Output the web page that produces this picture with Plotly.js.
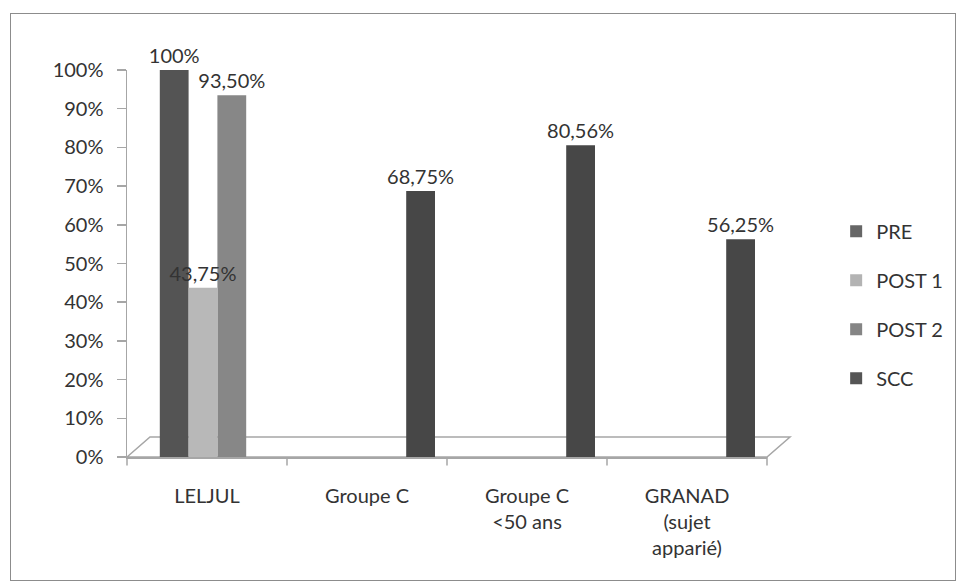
<!DOCTYPE html>
<html>
<head>
<meta charset="utf-8">
<script src="https://cdn.plot.ly/plotly-3.0.1.min.js"></script>
<style>
html,body{margin:0;padding:0;background:#fff;}
#chart{width:960px;height:586px;}
#frame{position:absolute;left:10px;top:13px;width:944px;height:566px;border:1.5px solid #8c8c8c;pointer-events:none;}
</style>
</head>
<body>
<div id="chart"></div>
<div id="frame"></div>
<script>
const categories = ["LELJUL", "Groupe C", "Groupe C<br>&lt;50 ans", "GRANAD<br>(sujet<br>apparié)"];
const seriesNames = ["PRE", "POST 1", "POST 2", "SCC"];
const PRE    = [1.00, null, null, null];
const POST1  = [0.4375, null, null, null];
const POST2  = [0.935, null, null, null];
const SCC    = [null, 0.6875, 0.8056, 0.5625];
const labelsPRE   = ["100%", "", "", ""];
const labelsPOST1 = ["43,75%", "", "", ""];
const labelsPOST2 = ["93,50%", "", "", ""];
const labelsSCC   = ["", "68,75%", "80,56%", "56,25%"];
const yTickVals = [0,0.1,0.2,0.3,0.4,0.5,0.6,0.7,0.8,0.9,1.0];
const yTickText = ["0%","10%","20%","30%","40%","50%","60%","70%","80%","90%","100%"];

const values = [PRE, POST1, POST2, SCC];
const labels = [labelsPRE, labelsPOST1, labelsPOST2, labelsSCC];
const barColors = ["#545454", "#b8b8b8", "#878787", "#474747"];
const legendColors = ["#666666", "#b3b3b3", "#858585", "#555555"];
const barW = 0.18;
const shift = 0.065;
const FONT = "Lato, 'Open Sans', sans-serif";
const FS = 20;

const xIdx = categories.map((c,i)=>i);
const barTraces = values.map((v,i)=>({
  type: "bar",
  name: seriesNames[i],
  x: xIdx,
  y: v,
  text: labels[i],
  textposition: "outside",
  constraintext: "none",
  cliponaxis: false,
  textfont: {family: FONT, size: FS, color: "#333333"},
  width: barW,
  offset: -2*barW + i*barW + shift,
  marker: {color: barColors[i], line: {width: 0}},
  legendgroup: "g"+i,
  showlegend: false,
  hoverinfo: "skip"
}));
// draw order: POST 1 last so its label sits on top of the POST 2 bar
const drawOrder = [0, 2, 3, 1];
const traces = drawOrder.map(i => barTraces[i]);

seriesNames.forEach((n,i)=>{
  traces.push({type:"bar", name:n, x:[null], y:[null], marker:{color:legendColors[i]}, legendgroup:"g"+i, showlegend:true, hoverinfo:"skip"});
});

const dx = 23/640, dy = 20/387;
const layout = {
  width: 960, height: 586,
  margin: {l:127, r:193, t:70, b:129},
  paper_bgcolor: "#ffffff",
  plot_bgcolor: "rgba(0,0,0,0)",
  font: {family: FONT, size: FS, color: "#333333"},
  barmode: "overlay",
  showlegend: true,
  legend: {xref: "container", yref: "container", x: 0.871, y: 0.48, xanchor: "left", yanchor: "middle",
           font: {family: FONT, size: FS, color:"#333333"},
           traceorder: "grouped", tracegroupgap: 20, itemwidth: 30},
  xaxis: {
    range: [-0.5, 3.5],
    tickvals: xIdx, ticktext: categories,
    showgrid: false, zeroline: false,
    showline: true, linecolor: "#a6a6a6", linewidth: 1.5,
    ticks: "", ticklabelstandoff: 20,
    tickfont: {family: FONT, size: FS, color:"#333333"},
    fixedrange: true, automargin: false
  },
  yaxis: {
    range: [0, 1], tickvals: yTickVals, ticktext: yTickText,
    showgrid: false, zeroline: false,
    showline: true, linecolor: "#a6a6a6", linewidth: 1.5,
    ticks: "outside", ticklen: 9, tickcolor: "#a6a6a6", tickwidth: 1.5,
    ticklabelstandoff: 9,
    tickfont: {family: FONT, size: FS, color:"#333333"},
    fixedrange: true, automargin: false
  },
  shapes: [
    {type:"path", xref:"paper", yref:"paper", layer:"below",
     path:`M 0 0 L ${dx} ${dy} L ${1+dx} ${dy} L 1 0 Z`,
     fillcolor:"#ffffff", line:{color:"#a6a6a6", width:1.5}},
    ...[0,1,2,3,4].map(k=>({type:"line", xref:"paper", yref:"paper", x0:k/4, x1:k/4, y0:0, y1:-0.022, line:{color:"#a6a6a6", width:1.5}}))
  ]
};

Plotly.newPlot("chart", traces, layout, {displayModeBar:false, staticPlot:true});
</script>
</body>
</html>
